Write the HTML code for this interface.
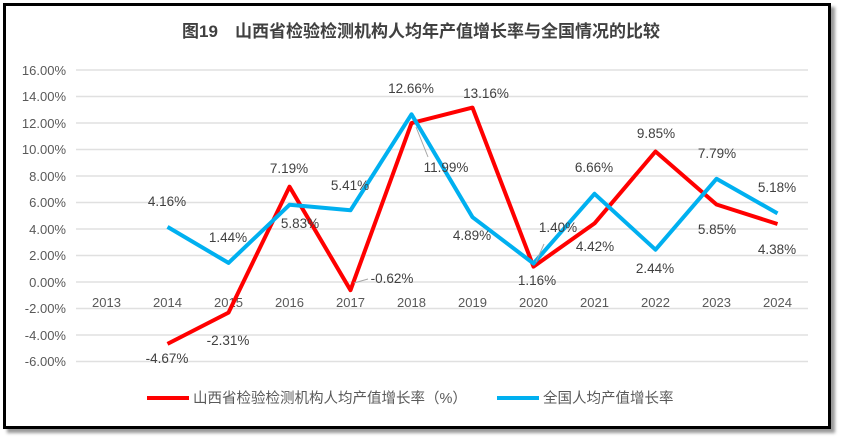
<!DOCTYPE html>
<html><head><meta charset="utf-8"><style>
body{margin:0;background:#fff;}
.f{position:absolute;left:3px;top:3px;width:822px;height:420px;border:3px solid #000;box-shadow:4px 4px 3px #999;background:#fff;}
</style></head><body>
<div class="f"></div>
<svg width="842" height="438" style="position:absolute;left:0;top:0" font-family="Liberation Sans, Noto Sans CJK SC, sans-serif">
<text x="421" y="37" text-anchor="middle" font-size="17" font-weight="bold" fill="#404040">图19　山西省检验检测机构人均年产值增长率与全国情况的比较</text>
<g stroke="#e0e0e0" stroke-width="1.5">
<line x1="76" x2="808" y1="70" y2="70"/><line x1="76" x2="808" y1="96.5" y2="96.5"/><line x1="76" x2="808" y1="123" y2="123"/><line x1="76" x2="808" y1="149.5" y2="149.5"/><line x1="76" x2="808" y1="176" y2="176"/><line x1="76" x2="808" y1="202.5" y2="202.5"/><line x1="76" x2="808" y1="229" y2="229"/><line x1="76" x2="808" y1="255.5" y2="255.5"/><line x1="76" x2="808" y1="282" y2="282"/><line x1="76" x2="808" y1="308.5" y2="308.5"/><line x1="76" x2="808" y1="335" y2="335"/><line x1="76" x2="808" y1="361.5" y2="361.5"/>
</g>
<g font-size="13" fill="#595959" text-anchor="end">
<text x="66" y="75">16.00%</text><text x="66" y="101">14.00%</text><text x="66" y="128">12.00%</text><text x="66" y="154">10.00%</text><text x="66" y="181">8.00%</text><text x="66" y="207">6.00%</text><text x="66" y="234">4.00%</text><text x="66" y="260">2.00%</text><text x="66" y="287">0.00%</text><text x="66" y="313">-2.00%</text><text x="66" y="340">-4.00%</text><text x="66" y="366">-6.00%</text>
</g>
<g font-size="13" fill="#595959" text-anchor="middle">
<text x="106.5" y="307">2013</text><text x="167.5" y="307">2014</text><text x="228.5" y="307">2015</text><text x="289.5" y="307">2016</text><text x="350.5" y="307">2017</text><text x="411.5" y="307">2018</text><text x="472.5" y="307">2019</text><text x="533.5" y="307">2020</text><text x="594.5" y="307">2021</text><text x="655.5" y="307">2022</text><text x="716.5" y="307">2023</text><text x="777.5" y="307">2024</text>
</g>
<polyline fill="none" stroke="#ff0000" stroke-width="4" stroke-linejoin="round" points="167.5,343.9 228.5,312.6 289.5,186.7 350.5,290.2 411.5,123.1 472.5,107.6 533.5,266.6 594.5,223.4 655.5,151.5 716.5,204.5 777.5,224"/>
<polyline fill="none" stroke="#00b0f0" stroke-width="4" stroke-linejoin="round" points="167.5,226.9 228.5,262.9 289.5,204.8 350.5,210.3 411.5,114.3 472.5,217.2 533.5,263.5 594.5,193.8 655.5,249.7 716.5,178.8 777.5,213.4"/>
<g stroke="#a6a6a6" stroke-width="1"><line x1="416" y1="127" x2="428" y2="157"/><line x1="354" y1="283" x2="368" y2="279"/><line x1="536" y1="262" x2="544" y2="244"/></g>
<g font-size="13.5" fill="#404040" text-anchor="middle">
<text x="167" y="363">-4.67%</text><text x="228" y="345">-2.31%</text><text x="289" y="173">7.19%</text><text x="392" y="283">-0.62%</text><text x="446" y="172">11.99%</text><text x="486" y="98">13.16%</text><text x="537" y="285">1.16%</text><text x="595" y="251">4.42%</text><text x="656" y="138">9.85%</text><text x="717" y="234">5.85%</text><text x="777" y="254">4.38%</text>
<text x="167" y="206">4.16%</text><text x="228" y="242">1.44%</text><text x="300" y="228">5.83%</text><text x="350" y="190">5.41%</text><text x="411" y="93">12.66%</text><text x="472" y="240">4.89%</text><text x="558" y="232">1.40%</text><text x="594" y="172">6.66%</text><text x="655" y="273">2.44%</text><text x="717" y="158">7.79%</text><text x="777" y="192">5.18%</text>
</g>
<line x1="147" x2="189" y1="398" y2="398" stroke="#ff0000" stroke-width="4"/>
<text x="193" y="403" font-size="14.5" fill="#595959">山西省检验检测机构人均产值增长率（%）</text>
<line x1="497" x2="539" y1="398" y2="398" stroke="#00b0f0" stroke-width="4"/>
<text x="543" y="403" font-size="14.5" fill="#595959">全国人均产值增长率</text>
</svg>
</body></html>
